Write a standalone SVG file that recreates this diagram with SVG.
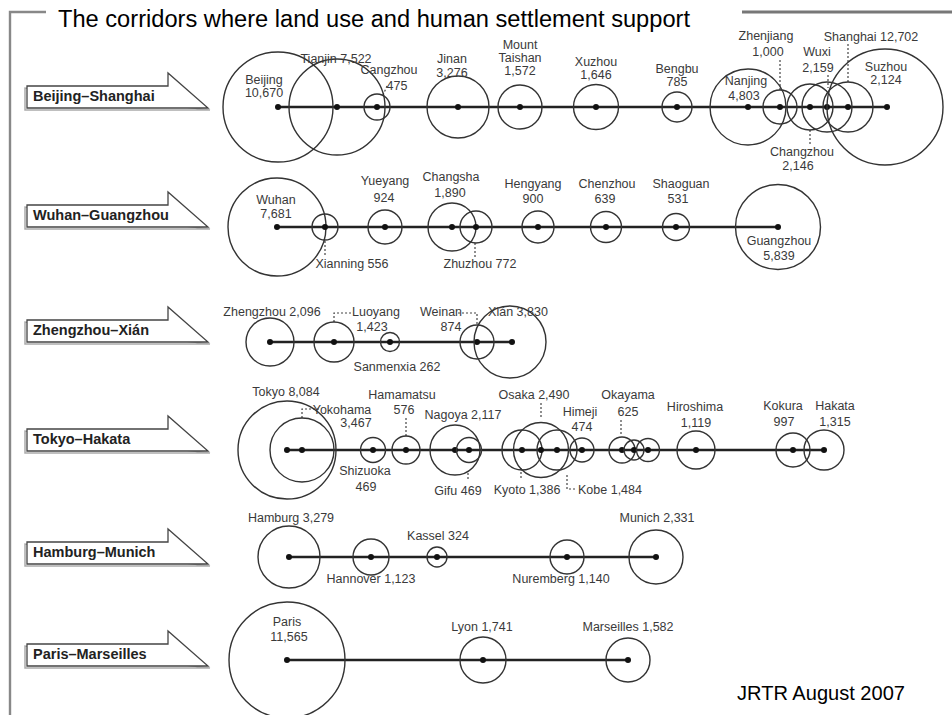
<svg xmlns="http://www.w3.org/2000/svg" width="952" height="715" viewBox="0 0 952 715">
<style>
.c{fill:none;stroke:#333;stroke-width:1.4}
.d{fill:#111}
.ln{stroke:#222;stroke-width:2.4;fill:none}
.ld{stroke:#444;stroke-width:1.2;stroke-dasharray:2 2;fill:none}
.t{font-family:"Liberation Sans",Arial,sans-serif;font-size:12.5px;fill:#3a3a3a;text-anchor:middle}
.bx{fill:#fff;stroke:#444;stroke-width:1.3}
.sh{fill:none;stroke:#aaa;stroke-width:1.5}
.bt{font-family:"Liberation Sans",Arial,sans-serif;font-size:14.5px;font-weight:bold;fill:#222}
.fr{stroke:#888;stroke-width:2.4;fill:none}
</style>
<rect width="952" height="715" fill="#fff"/>
<g id="frame">
<path class="fr" d="M46,12 H10 V715"/>
<rect x="742" y="10.5" width="210" height="3" fill="#777"/>
</g>
<text x="58" y="27" font-family="Liberation Sans, Arial, sans-serif" font-size="23.5" textLength="632" lengthAdjust="spacingAndGlyphs" fill="#000">The corridors where land use and human settlement support</text>
<text x="737" y="700" font-family="Liberation Sans, Arial, sans-serif" font-size="20" textLength="168" lengthAdjust="spacingAndGlyphs" fill="#000">JRTR August 2007</text>

<!-- corridor label arrows -->
<g id="label-beijing-shanghai"><polygon class="sh" points="25,88 25,110 210,110"/><polygon class="bx" points="27,86 168,86 168,73 208,108 27,108"/><text class="bt" x="33" y="101">Beijing–Shanghai</text></g>
<g id="label-wuhan-guangzhou"><polygon class="sh" points="25,207 25,229 210,229"/><polygon class="bx" points="27,205 168,205 168,192 208,227 27,227"/><text class="bt" x="33" y="220">Wuhan–Guangzhou</text></g>
<g id="label-zhengzhou-xian"><polygon class="sh" points="25,322 25,344 210,344"/><polygon class="bx" points="27,320 168,320 168,307 208,342 27,342"/><text class="bt" x="33" y="335">Zhengzhou–Xián</text></g>
<g id="label-tokyo-hakata"><polygon class="sh" points="25,431 25,453 210,453"/><polygon class="bx" points="27,429 168,429 168,416 208,451 27,451"/><text class="bt" x="33" y="444">Tokyo–Hakata</text></g>
<g id="label-hamburg-munich"><polygon class="sh" points="25,544 25,566 210,566"/><polygon class="bx" points="27,542 168,542 168,529 208,564 27,564"/><text class="bt" x="33" y="557">Hamburg–Munich</text></g>
<g id="label-paris-marseilles"><polygon class="sh" points="25,646 25,668 210,668"/><polygon class="bx" points="27,644 168,644 168,631 208,666 27,666"/><text class="bt" x="33" y="659">Paris–Marseilles</text></g>

<!-- connectors -->
<g id="connectors">
<line class="ln" x1="278" y1="107" x2="887" y2="107"/>
<line class="ln" x1="277" y1="227" x2="778" y2="227"/>
<line class="ln" x1="270" y1="342" x2="512" y2="342"/>
<line class="ln" x1="287" y1="450" x2="824" y2="450"/>
<line class="ln" x1="289" y1="557" x2="656" y2="557"/>
<line class="ln" x1="287" y1="660" x2="628" y2="660"/>
<path class="ld" d="M387,86 L383,95"/>
<path class="ld" d="M780,60 V90"/>
<path class="ld" d="M828,75 V88"/>
<path class="ld" d="M848,44 V84"/>
<path class="ld" d="M810,130 V145"/>
<path class="ld" d="M325,241 V256"/>
<path class="ld" d="M475,243 V257"/>
<path class="ld" d="M334,322 V313 H353"/>
<path class="ld" d="M458,313 H477 V326"/>
<path class="ld" d="M302,418 V409 H320"/>
<path class="ld" d="M406,418 V437"/>
<path class="ld" d="M468,473 V481"/>
<path class="ld" d="M541,403 V418"/>
<path class="ld" d="M521,468 V480"/>
<path class="ld" d="M567,475 V489 H575"/>
<path class="ld" d="M621,420 V435"/>
</g>

<!-- Beijing-Shanghai -->
<g id="beijing"><circle class="c" cx="278" cy="107" r="55"/><circle class="d" cx="278" cy="107" r="3"/><text class="t" x="264" y="84">Beijing</text><text class="t" x="264" y="97">10,670</text></g>
<g id="tianjin"><circle class="c" cx="337" cy="107" r="48"/><circle class="d" cx="337" cy="107" r="3"/><text class="t" x="336" y="63">Tianjin 7,522</text></g>
<g id="cangzhou"><circle class="c" cx="377" cy="107" r="13"/><circle class="d" cx="377" cy="107" r="3"/><text class="t" x="389" y="74">Cangzhou</text><text class="t" x="397" y="90">475</text></g>
<g id="jinan"><circle class="c" cx="458" cy="107" r="31"/><circle class="d" cx="458" cy="107" r="3"/><text class="t" x="452" y="63">Jinan</text><text class="t" x="452" y="77">3,276</text></g>
<g id="mount-taishan"><circle class="c" cx="520" cy="107" r="22"/><circle class="d" cx="520" cy="107" r="3"/><text class="t" x="520" y="49">Mount</text><text class="t" x="520" y="62">Taishan</text><text class="t" x="520" y="75">1,572</text></g>
<g id="xuzhou"><circle class="c" cx="596" cy="107" r="22.5"/><circle class="d" cx="596" cy="107" r="3"/><text class="t" x="596" y="66">Xuzhou</text><text class="t" x="596" y="79">1,646</text></g>
<g id="bengbu"><circle class="c" cx="677" cy="107" r="15"/><circle class="d" cx="677" cy="107" r="3"/><text class="t" x="677" y="73">Bengbu</text><text class="t" x="677" y="86">785</text></g>
<g id="nanjing"><circle class="c" cx="748" cy="107" r="38"/><circle class="d" cx="748" cy="107" r="3"/><text class="t" x="746" y="85">Nanjing</text><text class="t" x="744" y="100">4,803</text></g>
<g id="zhenjiang"><circle class="c" cx="780" cy="107" r="17"/><circle class="d" cx="780" cy="107" r="3"/><text class="t" x="766" y="40">Zhenjiang</text><text class="t" x="768" y="56">1,000</text></g>
<g id="changzhou"><circle class="c" cx="810" cy="107" r="23"/><circle class="d" cx="810" cy="107" r="3"/><text class="t" x="802" y="156">Changzhou</text><text class="t" x="798" y="170">2,146</text></g>
<g id="wuxi"><circle class="c" cx="827" cy="107" r="25"/><circle class="d" cx="827" cy="107" r="3"/><text class="t" x="817" y="56">Wuxi</text><text class="t" x="818" y="72">2,159</text></g>
<g id="suzhou"><circle class="c" cx="848" cy="107" r="25"/><circle class="d" cx="848" cy="107" r="3"/><text class="t" x="886" y="71">Suzhou</text><text class="t" x="886" y="84">2,124</text></g>
<g id="shanghai"><circle class="c" cx="885" cy="107" r="58"/><circle class="d" cx="887" cy="107" r="3"/><text class="t" x="871" y="41">Shanghai 12,702</text></g>

<!-- Wuhan-Guangzhou -->
<g id="wuhan"><circle class="c" cx="277" cy="227" r="49"/><circle class="d" cx="277" cy="227" r="3"/><text class="t" x="276" y="204">Wuhan</text><text class="t" x="276" y="218">7,681</text></g>
<g id="xianning"><circle class="c" cx="325" cy="227" r="13"/><circle class="d" cx="325" cy="227" r="3"/><text class="t" x="352" y="268">Xianning 556</text></g>
<g id="yueyang"><circle class="c" cx="385" cy="227" r="17"/><circle class="d" cx="385" cy="227" r="3"/><text class="t" x="385" y="185">Yueyang</text><text class="t" x="384" y="202">924</text></g>
<g id="changsha"><circle class="c" cx="452" cy="227" r="24"/><circle class="d" cx="452" cy="227" r="3"/><text class="t" x="451" y="181">Changsha</text><text class="t" x="450" y="197">1,890</text></g>
<g id="zhuzhou"><circle class="c" cx="476" cy="227" r="16"/><circle class="d" cx="476" cy="227" r="3"/><text class="t" x="480" y="268">Zhuzhou 772</text></g>
<g id="hengyang"><circle class="c" cx="538" cy="227" r="16"/><circle class="d" cx="538" cy="227" r="3"/><text class="t" x="533" y="188">Hengyang</text><text class="t" x="533" y="203">900</text></g>
<g id="chenzhou"><circle class="c" cx="606" cy="227" r="15.5"/><circle class="d" cx="606" cy="227" r="3"/><text class="t" x="607" y="188">Chenzhou</text><text class="t" x="605" y="203">639</text></g>
<g id="shaoguan"><circle class="c" cx="676" cy="227" r="13.5"/><circle class="d" cx="676" cy="227" r="3"/><text class="t" x="681" y="188">Shaoguan</text><text class="t" x="678" y="203">531</text></g>
<g id="guangzhou"><circle class="c" cx="778" cy="227" r="42.5"/><circle class="d" cx="778" cy="227" r="3"/><text class="t" x="779" y="245">Guangzhou</text><text class="t" x="779" y="260">5,839</text></g>

<!-- Zhengzhou-Xian -->
<g id="zhengzhou"><circle class="c" cx="270" cy="342" r="24"/><circle class="d" cx="270" cy="342" r="3"/><text class="t" x="272" y="316">Zhengzhou 2,096</text></g>
<g id="luoyang"><circle class="c" cx="334" cy="342" r="20"/><circle class="d" cx="334" cy="342" r="3"/><text class="t" x="376" y="316">Luoyang</text><text class="t" x="372" y="331">1,423</text></g>
<g id="sanmenxia"><circle class="c" cx="390" cy="342" r="9.5"/><circle class="d" cx="390" cy="342" r="3"/><text class="t" x="397" y="371">Sanmenxia 262</text></g>
<g id="weinan"><circle class="c" cx="477" cy="342" r="17"/><circle class="d" cx="477" cy="342" r="3"/><text class="t" x="441" y="316">Weinan</text><text class="t" x="451" y="331">874</text></g>
<g id="xian"><circle class="c" cx="510" cy="342" r="36"/><circle class="d" cx="512" cy="342" r="3"/><text class="t" x="518" y="316">Xián 3,830</text></g>

<!-- Tokyo-Hakata -->
<g id="tokyo"><circle class="c" cx="287" cy="450" r="49"/><circle class="d" cx="287" cy="450" r="3"/><text class="t" x="286" y="396">Tokyo 8,084</text></g>
<g id="yokohama"><circle class="c" cx="302" cy="450" r="32"/><circle class="d" cx="302" cy="450" r="3"/><text class="t" x="342" y="414">Yokohama</text><text class="t" x="356" y="427">3,467</text></g>
<g id="shizuoka"><circle class="c" cx="373" cy="450" r="12.5"/><circle class="d" cx="373" cy="450" r="3"/><text class="t" x="365" y="475">Shizuoka</text><text class="t" x="366" y="491">469</text></g>
<g id="hamamatsu"><circle class="c" cx="406" cy="450" r="14"/><circle class="d" cx="406" cy="450" r="3"/><text class="t" x="402" y="399">Hamamatsu</text><text class="t" x="404" y="414">576</text></g>
<g id="nagoya"><circle class="c" cx="455" cy="450" r="25"/><circle class="d" cx="455" cy="450" r="3"/><text class="t" x="463" y="419">Nagoya 2,117</text></g>
<g id="gifu"><circle class="c" cx="469" cy="450" r="12.5"/><circle class="d" cx="469" cy="450" r="3"/><text class="t" x="458" y="495">Gifu 469</text></g>
<g id="kyoto"><circle class="c" cx="522" cy="450" r="20"/><circle class="d" cx="522" cy="450" r="3"/><text class="t" x="527" y="494">Kyoto 1,386</text></g>
<g id="osaka"><circle class="c" cx="541" cy="450" r="27.5"/><circle class="d" cx="541" cy="450" r="3"/><text class="t" x="534" y="399">Osaka 2,490</text></g>
<g id="kobe"><circle class="c" cx="557" cy="450" r="20"/><circle class="d" cx="557" cy="450" r="3"/><text class="t" x="610" y="494">Kobe 1,484</text></g>
<g id="himeji"><circle class="c" cx="582" cy="450" r="12"/><circle class="d" cx="582" cy="450" r="3"/><text class="t" x="580" y="416">Himeji</text><text class="t" x="582" y="431">474</text></g>
<g id="okayama"><circle class="c" cx="622" cy="450" r="13"/><circle class="d" cx="622" cy="450" r="3"/><text class="t" x="628" y="399">Okayama</text><text class="t" x="628" y="416">625</text></g>
<g id="okayama-2"><circle class="c" cx="634" cy="450" r="10"/><circle class="d" cx="634" cy="450" r="3"/></g>
<g id="okayama-3"><circle class="c" cx="648" cy="450" r="11.5"/><circle class="d" cx="648" cy="450" r="3"/></g>
<g id="hiroshima"><circle class="c" cx="696" cy="450" r="19"/><circle class="d" cx="696" cy="450" r="3"/><text class="t" x="695" y="411">Hiroshima</text><text class="t" x="696" y="427">1,119</text></g>
<g id="kokura"><circle class="c" cx="793" cy="450" r="17"/><circle class="d" cx="793" cy="450" r="3"/><text class="t" x="783" y="410">Kokura</text><text class="t" x="784" y="426">997</text></g>
<g id="hakata"><circle class="c" cx="824" cy="450" r="20"/><circle class="d" cx="824" cy="450" r="3"/><text class="t" x="835" y="410">Hakata</text><text class="t" x="835" y="426">1,315</text></g>

<!-- Hamburg-Munich -->
<g id="hamburg"><circle class="c" cx="289" cy="557" r="31"/><circle class="d" cx="289" cy="557" r="3"/><text class="t" x="291" y="522">Hamburg 3,279</text></g>
<g id="hannover"><circle class="c" cx="371" cy="557" r="18"/><circle class="d" cx="371" cy="557" r="3"/><text class="t" x="371" y="583">Hannover 1,123</text></g>
<g id="kassel"><circle class="c" cx="437" cy="557" r="10"/><circle class="d" cx="437" cy="557" r="3"/><text class="t" x="438" y="540">Kassel 324</text></g>
<g id="nuremberg"><circle class="c" cx="567" cy="557" r="17"/><circle class="d" cx="567" cy="557" r="3"/><text class="t" x="561" y="583">Nuremberg 1,140</text></g>
<g id="munich"><circle class="c" cx="656" cy="557" r="27"/><circle class="d" cx="656" cy="557" r="3"/><text class="t" x="657" y="522">Munich 2,331</text></g>

<!-- Paris-Marseilles -->
<g id="paris"><circle class="c" cx="287" cy="660" r="58"/><circle class="d" cx="287" cy="660" r="3"/><text class="t" x="287" y="626">Paris</text><text class="t" x="289" y="641">11,565</text></g>
<g id="lyon"><circle class="c" cx="483" cy="660" r="23"/><circle class="d" cx="483" cy="660" r="3"/><text class="t" x="482" y="631">Lyon 1,741</text></g>
<g id="marseilles"><circle class="c" cx="628" cy="660" r="22"/><circle class="d" cx="628" cy="660" r="3"/><text class="t" x="628" y="631">Marseilles 1,582</text></g>
</svg>
